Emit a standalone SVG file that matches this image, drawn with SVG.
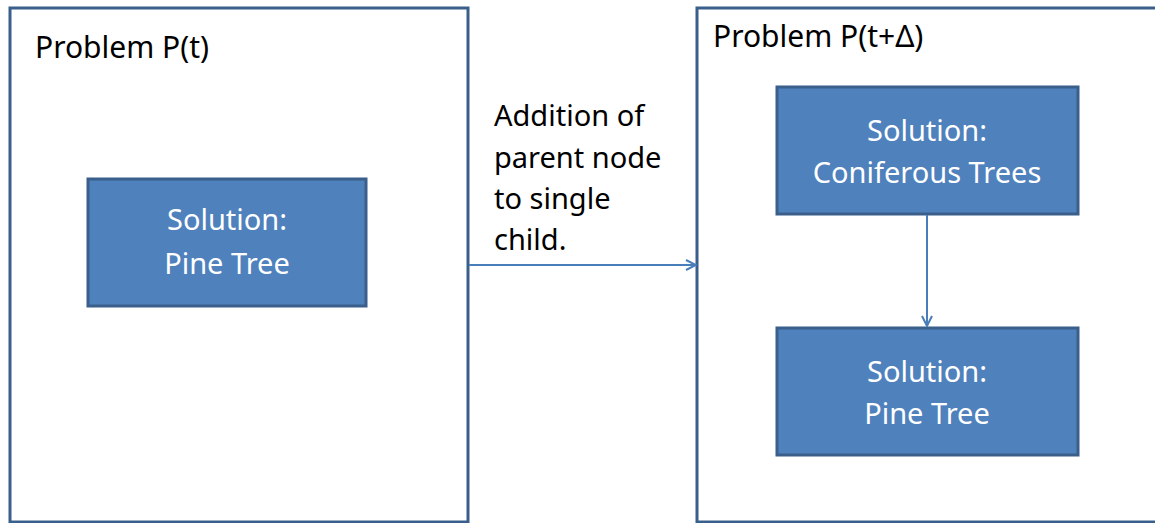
<svg xmlns="http://www.w3.org/2000/svg" width="1155" height="523" viewBox="0 0 1155 523">
<style>
.frame{fill:#FFFFFF;stroke:#3A5F8B;stroke-width:3}
.sol{fill:#4F81BD;stroke:#3A5F8B;stroke-width:3}
.t{font-family:"Noto Sans","Open Sans",sans-serif;font-size:29px;fill:#000000}
.h{font-size:30px}
.w{font-family:"Noto Sans","Open Sans",sans-serif;font-size:29px;fill:#FFFFFF;text-anchor:middle}
.conn{stroke:#4A7EBB;stroke-width:2;fill:none}
</style>
<defs>
<marker id="arr" viewBox="0 0 12 12" refX="11" refY="6" markerWidth="12" markerHeight="12" markerUnits="userSpaceOnUse" orient="auto">
<path d="M1,1 L11,6 L1,11" fill="none" stroke="#4A7EBB" stroke-width="2"/>
</marker>
</defs>
<g id="problem-t">
<rect class="frame" x="10" y="8" width="458" height="514"/>
<text class="t h" x="35" y="58">Problem P(t)</text>
</g>
<g id="problem-t-delta">
<rect class="frame" x="697" y="8" width="470" height="514"/>
<text class="t h" x="713" y="47">Problem P(t+Δ)</text>
</g>
<g id="sol-pine-left">
<rect class="sol" x="88" y="179" width="278" height="127"/>
<text class="w" x="227" y="230">Solution:</text>
<text class="w" x="227" y="274">Pine Tree</text>
</g>
<g id="sol-coniferous">
<rect class="sol" x="777" y="87" width="301" height="127"/>
<text class="w" x="927" y="141">Solution:</text>
<text class="w" x="927" y="183">Coniferous Trees</text>
</g>
<g id="sol-pine-right">
<rect class="sol" x="777" y="328" width="301" height="127"/>
<text class="w" x="927" y="382">Solution:</text>
<text class="w" x="927" y="424">Pine Tree</text>
</g>
<g id="label">
<text class="t" x="494" y="126">Addition of</text>
<text class="t" x="494" y="168">parent node</text>
<text class="t" x="494" y="209">to single</text>
<text class="t" x="494" y="250">child.</text>
</g>
<g id="connectors">
<line class="conn" x1="469" y1="265" x2="696" y2="265" marker-end="url(#arr)"/>
<line class="conn" x1="927" y1="215" x2="927" y2="326" marker-end="url(#arr)"/>
</g>
</svg>
